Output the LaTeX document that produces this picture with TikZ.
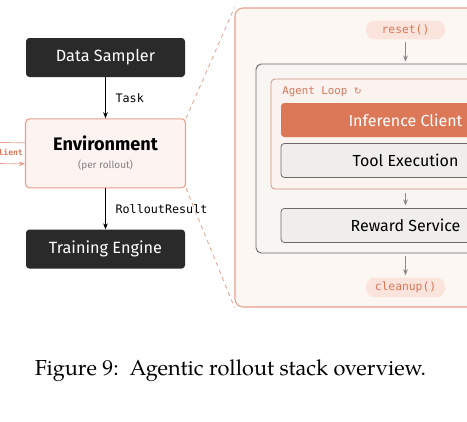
\documentclass[tikz,border=0pt]{standalone}
\usepackage{fontspec}
\setsansfont{Fira Sans}
\setmonofont{DejaVu Sans Mono}
\newfontfamily\symfont{DejaVu Sans}
\newfontfamily\capfont{texgyrepagella-regular.otf}
\usetikzlibrary{positioning,arrows.meta}

\definecolor{darkfill}{HTML}{2A2A2A}
\definecolor{salmon}{HTML}{E8A08C}
\definecolor{salmontext}{HTML}{D9775A}
\definecolor{envfill}{HTML}{FDF3F1}
\definecolor{outerfill}{HTML}{FDF7F4}
\definecolor{midfill}{HTML}{F8F6F2}
\definecolor{loopfill}{HTML}{FAF3EF}
\definecolor{infill}{HTML}{DC7858}
\definecolor{grayfill}{HTML}{EFEEEA}
\definecolor{grayline}{HTML}{6B6B6B}
\definecolor{pillfill}{HTML}{FAE4DC}

\begin{document}
\begin{tikzpicture}[x=0.75pt,y=-0.75pt,node distance = 30.75pt,
    darkbox/.style = {fill=darkfill, rounded corners=2.5pt, text=white,
        minimum width=119.25pt, minimum height=29.25pt,
        font=\sffamily\fontsize{12.2}{14}\selectfont},
    envbox/.style = {draw=salmon, fill=envfill, line width=0.8pt, rounded corners=3pt,
        minimum width=120pt, minimum height=51.75pt, align=center},
    flow/.style = {-{Stealth[length=4.5pt,width=3.5pt]}, line width=0.5pt},
    grayflow/.style = {flow, draw=grayline!80},
    steplabel/.style = {font=\ttfamily\fontsize{8.8}{10}\selectfont, right=4pt},
    inner/.style = {minimum width=186.75pt, minimum height=25.5pt, rounded corners=2.5pt,
        font=\sffamily\fontsize{12}{13}\selectfont},
    toolbox/.style = {inner, draw=grayline, fill=grayfill, line width=0.6pt},
    pill/.style = {fill=pillfill, text=salmontext, rounded corners=6.75pt,
        minimum width=59.25pt, minimum height=13.5pt,
        font=\ttfamily\fontsize{8.5}{10}\selectfont}]
    \useasboundingbox (0,0) rectangle (467,421);
    \clip (0,0) rectangle (467,421);

    % left column
    \node (DS) [darkbox] at (105.5,57.5) {Data Sampler};
    \node (Env) [envbox, below = of DS] {%
        {\sffamily\bfseries\fontsize{13.6}{15}\selectfont Environment}\\[1pt]
        {\sffamily\fontsize{7.5}{9}\selectfont\color{gray}(per rollout)}};
    \node (TE) [darkbox, below = of Env] {Training Engine};

    \draw[flow] (DS) -- node[steplabel] {Task} (Env);
    \draw[flow] (Env) -- node[steplabel] {RolloutResult} (TE);

    % client stub, cut by the page edge
    \node (Cl) [anchor=east, inner sep=0pt, text=salmontext,
        font=\ttfamily\bfseries\fontsize{6}{7}\selectfont] at (23,152.5) {Client};
    \coordinate (offL) at (-40,152.5);
    \draw[flow, draw=salmon] ([yshift=7.9pt]Env.west) -- ([yshift=7.9pt]offL);
    \draw[flow, draw=salmon] ([yshift=-7.9pt]offL) -- ([yshift=-7.9pt]Env.west);

    % zoomed environment
    \node (Outer) [draw=salmon, fill=outerfill, line width=0.8pt, rounded corners=6pt,
        minimum width=255.75pt, minimum height=224.25pt] at (405.5,157.5) {};
    \draw[salmon, dashed, line width=0.6pt] (Env.north east) -- (Outer.north west);
    \draw[salmon, dashed, line width=0.6pt] (Env.south east) -- (Outer.south west);

    \node (Reset) [pill] at (405.5,30) {reset()};
    \node (Mid) [draw=grayline, fill=midfill, line width=0.7pt, rounded corners=4pt,
        minimum width=224.25pt, minimum height=141.75pt] at (405.5,158.5) {};
    \node (Loop) [draw=salmon!90!black, fill=loopfill, line width=0.6pt, rounded corners=3pt,
        minimum width=201.75pt, minimum height=82.5pt] at (405.5,134) {};
    \node (LoopLabel) [anchor=west, inner sep=0pt, text=salmontext,
        font=\ttfamily\fontsize{8.1}{10}\selectfont] at (282,92)
        {Agent Loop {\symfont\fontsize{7}{8}\selectfont ↻}};
    \node (IC) [inner, fill=infill, text=white] at (405.5,120) {Inference Client};
    \node (TX) [toolbox] at (405.5,160.5) {Tool Execution};
    \node (RS) [toolbox] at (405.5,225.5) {Reward Service};
    \node (Clean) [pill] at (405.5,287.5) {cleanup()};

    \draw[grayflow, shorten <=2pt, shorten >=1.5pt] (Reset) -- (Mid);
    \draw[grayflow, shorten <=3pt, shorten >=2pt] (Loop) -- (RS);
    \draw[grayflow, shorten <=2pt, shorten >=1.5pt] (Mid) -- (Clean);

    % caption
    \node (Cap) [font=\capfont\fontsize{16.3}{19}\selectfont] at (230.5,371)
        {Figure 9:\, Agentic rollout stack overview.};
\end{tikzpicture}
\end{document}
